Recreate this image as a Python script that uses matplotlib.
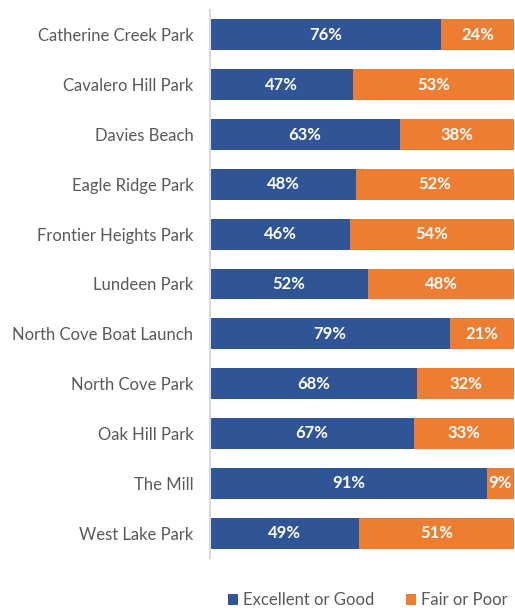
import matplotlib.pyplot as plt
import numpy as np

parks = ['Catherine Creek Park', 'Cavalero Hill Park', 'Davies Beach', 'Eagle Ridge Park',
         'Frontier Heights Park', 'Lundeen Park', 'North Cove Boat Launch', 'North Cove Park',
         'Oak Hill Park', 'The Mill', 'West Lake Park']
good = [76, 47, 63, 48, 46, 52, 79, 68, 67, 91, 49]
poor = [24, 53, 38, 52, 54, 48, 21, 32, 33, 9, 51]

plt.rcParams['font.family'] = ['Lato', 'DejaVu Sans']

blue = '#2F5597'
orange = '#ED7D31'

fig = plt.figure(figsize=(5.15, 6.08), dpi=100)
ax = fig.add_axes([210 / 515, 50 / 608, 304 / 515, 548 / 608])

good_a = np.array(good, dtype=float)
poor_a = np.array(poor, dtype=float)
total = good_a + poor_a
g = good_a / total * 100
p = poor_a / total * 100
y = np.arange(len(parks))

bg = ax.barh(y, g, height=0.62, color=blue, label='Excellent or Good')
bp = ax.barh(y, p, left=g, height=0.62, color=orange, label='Fair or Poor')

for bars, vals in ((bg, good), (bp, poor)):
    for b, v in zip(bars, vals):
        ax.text(b.get_x() + b.get_width() / 2, b.get_y() + b.get_height() / 2, f'{v}%',
                ha='center', va='center', color='white', fontsize=12, fontweight='bold')

ax.set_xlim(0, 100)
ax.set_ylim(len(parks) - 0.5, -0.5)
ax.set_yticks(y)
ax.set_yticklabels(parks, fontsize=12, color='#595959')
ax.tick_params(axis='y', length=0, pad=12)
ax.set_xticks([])
for s in ('top', 'right', 'bottom'):
    ax.spines[s].set_visible(False)
ax.spines['left'].set_color('#D9D9D9')
ax.spines['left'].set_linewidth(1.5)

fig.legend(handles=[bg, bp], loc='center left', bbox_to_anchor=(216 / 515, 0.013), ncol=2,
           frameon=False, fontsize=12, labelcolor='#595959', handlelength=0.6,
           handleheight=0.6, handletextpad=0.3, columnspacing=1.9, borderpad=0.2)

fig.savefig('out.png', dpi=100)
